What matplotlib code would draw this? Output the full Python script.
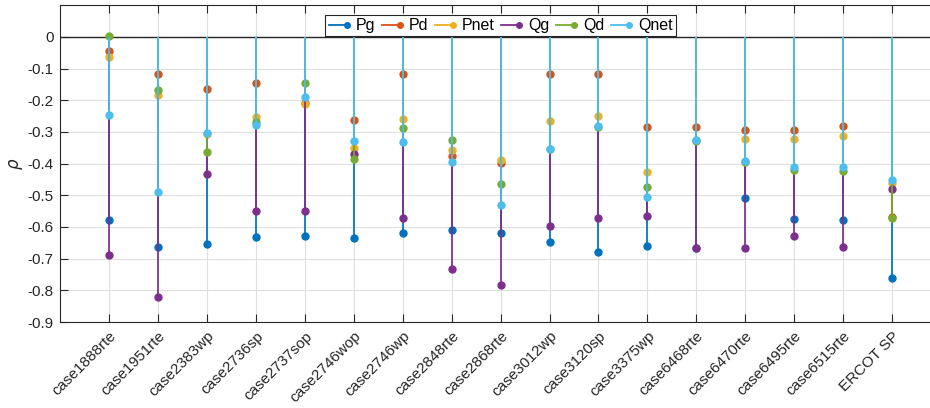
import numpy as np
import matplotlib
matplotlib.use("Agg")
from matplotlib import pyplot as plt
from matplotlib.lines import Line2D
from matplotlib.legend_handler import HandlerBase

plt.rcParams['font.family'] = ['Liberation Sans', 'DejaVu Sans']
plt.rcParams['mathtext.fontset'] = 'dejavusans'

# ---------- data ----------
cases = ['case1888rte', 'case1951rte', 'case2383wp', 'case2736sp', 'case2737sop',
         'case2746wop', 'case2746wp', 'case2848rte', 'case2868rte', 'case3012wp',
         'case3120sp', 'case3375wp', 'case6468rte', 'case6470rte', 'case6495rte',
         'case6515rte', 'ERCOT SP']

pg   = [-0.577, -0.663, -0.653, -0.632, -0.627, -0.634, -0.620, -0.608, -0.618,
        -0.648, -0.680, -0.661, -0.665, -0.508, -0.575, -0.577, -0.760]
pd   = [-0.043, -0.116, -0.164, -0.145, -0.210, -0.261, -0.116, -0.375, -0.397,
        -0.116, -0.118, -0.284, -0.284, -0.294, -0.294, -0.281, -0.567]
pnet = [-0.062, -0.183, -0.307, -0.252, -0.213, -0.352, -0.258, -0.358, -0.387,
        -0.266, -0.249, -0.427, -0.325, -0.322, -0.322, -0.314, -0.460]
qg   = [-0.689, -0.822, -0.432, -0.548, -0.548, -0.371, -0.573, -0.734, -0.782,
        -0.597, -0.573, -0.565, -0.666, -0.667, -0.630, -0.663, -0.480]
qd   = [0.002, -0.166, -0.363, -0.268, -0.145, -0.384, -0.287, -0.325, -0.465,
        -0.353, -0.285, -0.475, -0.329, -0.395, -0.420, -0.423, -0.572]
qnet = [-0.247, -0.489, -0.302, -0.279, -0.188, -0.330, -0.333, -0.395, -0.532,
        -0.355, -0.281, -0.505, -0.324, -0.393, -0.412, -0.412, -0.451]

names = ['Pg', 'Pd', 'Pnet', 'Qg', 'Qd', 'Qnet']
series = [pg, pd, pnet, qg, qd, qnet]
colors = ['#0072BD', '#D95319', '#EDB120', '#7E2F8E', '#77AC30', '#4DBEEE']

axcol = '#262626'
gridcol = '#dfdfdf'


# legend entry like matlab stem: line with the dot at the right end
class StemHandler(HandlerBase):
    def create_artists(self, legend, orig, xd, yd, w, h, fs, trans):
        y = h / 2 - yd
        ln = Line2D([-xd, -xd + w], [y, y], color=orig.get_color(), lw=1.3)
        mk = Line2D([-xd + w * 0.9], [y], marker='o', ms=4, ls='none',
                    color=orig.get_color())
        ln.set_transform(trans)
        mk.set_transform(trans)
        return [ln, mk]


fig = plt.figure(figsize=(9.3, 4.08), dpi=100)
ax = fig.add_axes([60.4 / 930, 1 - 322 / 408, 880.5 / 930, (322 - 5.3) / 408])

x = np.arange(1, len(cases) + 1)
handles = []
for i in range(len(series)):
    z = 3 + i
    ax.vlines(x, 0, series[i], color=colors[i], lw=1.25, zorder=z)
    h, = ax.plot(x, series[i], 'o', color=colors[i], ms=5, zorder=z + 0.5)
    handles.append(h)

ax.axhline(0, color=axcol, lw=1.0, zorder=2.5)

ax.set_xlim(0, 18)
ax.set_ylim(-0.9, 0.1)
ax.set_yticks(np.round(np.arange(-0.9, 0.01, 0.1), 1))
ax.set_yticklabels(['0' if abs(v) < 1e-9 else '%.1f' % v
                    for v in np.arange(-0.9, 0.01, 0.1)])
ax.set_xticks(x)
ax.set_xticklabels(cases, rotation=45, ha='right', rotation_mode='anchor')

ax.grid(True, color=gridcol, lw=0.8, zorder=0)
ax.set_axisbelow(True)
ax.tick_params(direction='in', length=6, width=0.8, top=True, right=True,
               colors=axcol, labelsize=11, pad=5)
for s in ax.spines.values():
    s.set_color(axcol)
    s.set_linewidth(0.8)

ax.set_ylabel(r'$\rho$', fontsize=12, color=axcol, labelpad=2)

leg = fig.legend(handles, names, loc='upper center', ncol=6,
                 bbox_to_anchor=(500.5 / 930, 1 - 15 / 408),
                 handler_map={Line2D: StemHandler()},
                 fontsize=11.5, frameon=True, fancybox=False,
                 handlelength=1.25, handletextpad=0.45, columnspacing=0.4,
                 borderpad=0.2, borderaxespad=0)
leg.get_frame().set_edgecolor(axcol)
leg.get_frame().set_linewidth(0.8)
leg.get_frame().set_alpha(1)

fig.savefig('out.png', dpi=100)
